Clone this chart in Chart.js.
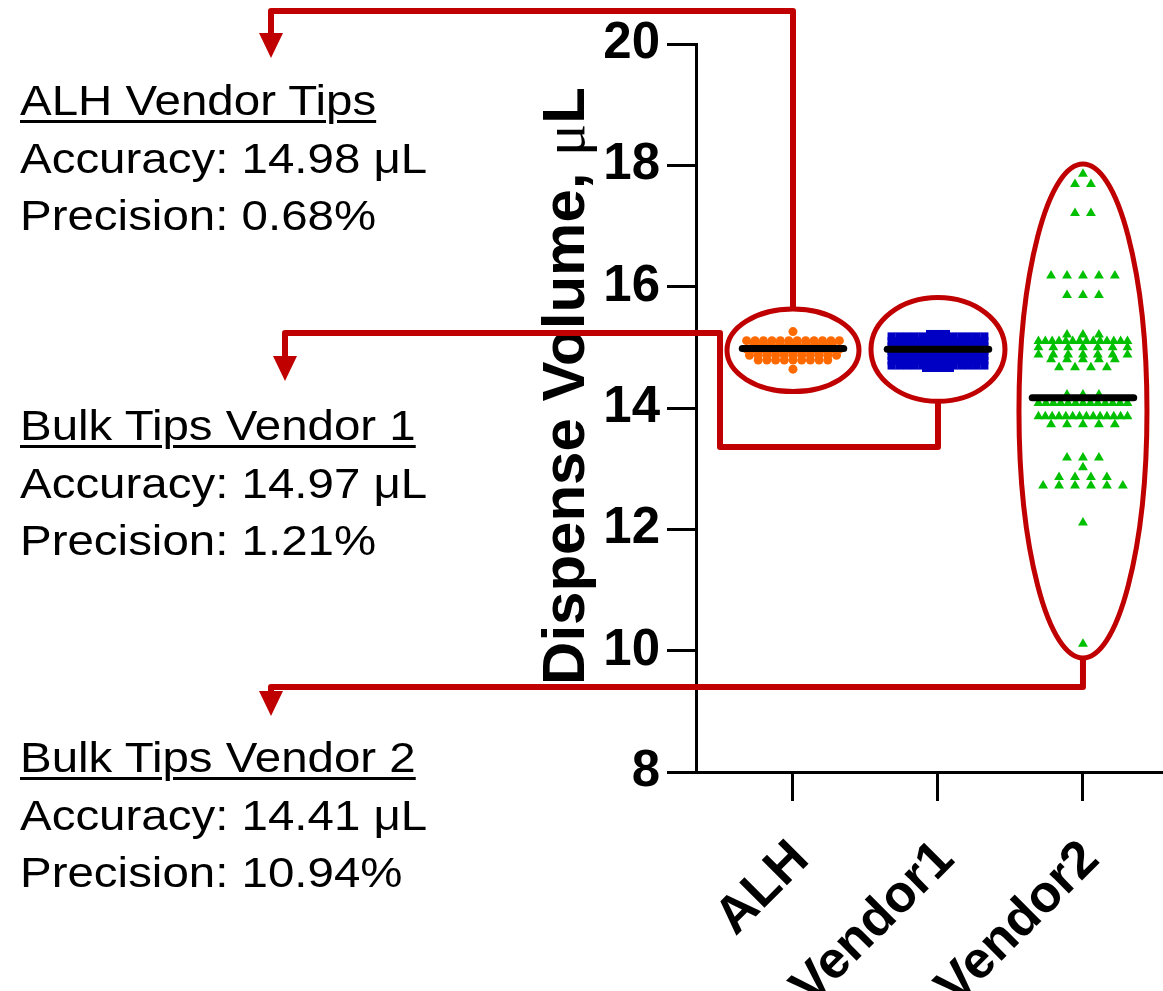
<!DOCTYPE html>
<html>
<head>
<meta charset="utf-8">
<script src="https://cdn.jsdelivr.net/npm/chart.js@4.4.1/dist/chart.umd.min.js"></script>
<style>
    html, body { margin: 0; padding: 0; background: #fff; overflow: hidden; }
    #wrap { position: relative; width: 1163px; height: 991px; }
    #plot { position: absolute; left: 0; top: 0; }
    .note {
        position: absolute;
        left: 20px;
        font: 42px/57.5px "Liberation Sans", Arial, sans-serif;
        color: #000;
        white-space: nowrap;
        transform: scaleX(1.13);
        transform-origin: 0 0;
    }
    .note .head {
        text-decoration: underline;
        text-decoration-thickness: 3px;
        text-underline-offset: 5px;
    }
</style>
</head>
<body>
<div id="wrap">
    <canvas id="plot" width="1163" height="991"></canvas>
</div>
<script>
// groups on the x axis
const groupNames = ['ALH', 'Vendor1', 'Vendor2'];

// dispense volumes, uL: [value, how many tips gave it]
const alhRows = [
    [15.26, 1], [15.11, 12], [15.05, 10], [14.97, 12],
    [14.87, 11], [14.79, 9], [14.64, 1]
];
const vendor1Rows = [
    [15.22, 3], [15.18, 13], [15.10, 14], [15.02, 14], [14.94, 14],
    [14.86, 14], [14.78, 14], [14.70, 13], [14.66, 4]
];
const vendor2Rows = [
    [17.86, 1], [17.69, 2], [17.21, 2], [16.18, 5], [15.86, 3],
    [15.21, 3], [15.10, 14], [15.00, 7], [14.88, 7], [14.80, 5], [14.67, 4],
    [14.22, 3], [14.08, 13], [13.86, 14], [13.73, 5],
    [13.18, 3], [13.02, 1], [12.86, 4], [12.72, 6], [12.11, 1], [10.11, 1]
];

// black bar drawn across each group
const centerLineValues = [14.98, 14.97, 14.17];

// summary text on the left
const noteTitles = ['ALH Vendor Tips', 'Bulk Tips Vendor 1', 'Bulk Tips Vendor 2'];
const accuracyValues = [14.98, 14.97, 14.41];
const precisionValues = [0.68, 1.21, 10.94];

const notesTop = [72, 397, 729];
noteTitles.forEach((title, i) => {
    const div = document.createElement('div');
    div.className = 'note';
    div.style.top = notesTop[i] + 'px';
    div.innerHTML = `<span class="head">${title}</span><br>` +
        `Accuracy: ${accuracyValues[i].toFixed(2)} μL<br>` +
        `Precision: ${precisionValues[i].toFixed(2)}%`;
    document.getElementById('wrap').appendChild(div);
});

// lay equal readings side by side, squeezed when a row gets too wide
function spreadRows(rows, center, maxStep, span) {
    const pts = [];
    rows.forEach(([value, n]) => {
        const step = n > 1 ? Math.min(maxStep, span / (n - 1)) : 0;
        for (let i = 0; i < n; i++) {
            pts.push({ x: center + (i - (n - 1) / 2) * step, y: value });
        }
    });
    return pts;
}

const sans = '"Liberation Sans", Arial, sans-serif';
Chart.defaults.font.family = sans;
Chart.defaults.color = '#000';

const red = '#C00000';

const lineSets = centerLineValues.map((v, i) => ({
    type: 'line',
    data: [{ x: i + 1 - 0.35, y: v }, { x: i + 1 + 0.35, y: v }],
    borderColor: '#000',
    borderWidth: 7,
    borderCapStyle: 'round',
    pointRadius: 0,
    showLine: true,
    order: 0
}));

const pointSets = [
    {
        data: spreadRows(alhRows, 1, 0.06, 0.64),
        pointStyle: 'circle',
        pointRadius: 4.5,
        backgroundColor: '#FF6A00',
        borderWidth: 0,
        order: 1
    },
    {
        data: spreadRows(vendor1Rows, 2, 0.055, 0.64),
        pointStyle: 'rect',
        pointRadius: 5.7,
        backgroundColor: '#0000C4',
        borderWidth: 0,
        order: 1
    },
    {
        data: spreadRows(vendor2Rows, 3, 0.11, 0.614),
        pointStyle: 'triangle',
        pointRadius: 5.7,
        backgroundColor: '#00C000',
        borderWidth: 0,
        order: 1
    }
];

// red ovals round each group, in axis units
const ovals = [
    { x: 1, top: 15.63, bottom: 14.27, rx: 66 },
    { x: 2, top: 15.82, bottom: 14.11, rx: 67 },
    { x: 3, top: 18.02, bottom: 9.88, rx: 64 }
];

function arrowHead(ctx, x, tipY) {
    ctx.beginPath();
    ctx.moveTo(x - 12, tipY - 25);
    ctx.lineTo(x + 12, tipY - 25);
    ctx.lineTo(x, tipY);
    ctx.closePath();
    ctx.fill();
}

function polyline(ctx, pts) {
    ctx.beginPath();
    ctx.moveTo(pts[0][0], pts[0][1]);
    pts.slice(1).forEach(p => ctx.lineTo(p[0], p[1]));
    ctx.stroke();
}

const calloutPlugin = {
    id: 'callouts',
    afterDraw(chart) {
        const { ctx, scales: { x, y } } = chart;
        ctx.save();

        // y axis title, with the micro sign set in a serif face
        const parts = [
            ['Dispense Volume, ', `bold 60px ${sans}`],
            ['μ', '60px "Liberation Serif", "DejaVu Serif", serif'],
            ['L', `bold 60px ${sans}`]
        ];
        let total = 0;
        parts.forEach(p => { ctx.font = p[1]; p.push(ctx.measureText(p[0]).width); total += p[2]; });
        ctx.save();
        ctx.translate(584, 386);
        ctx.rotate(-Math.PI / 2);
        ctx.fillStyle = '#000';
        ctx.textBaseline = 'alphabetic';
        ctx.textAlign = 'left';
        let tx = -total / 2;
        parts.forEach(p => { ctx.font = p[1]; ctx.fillText(p[0], tx, 0); tx += p[2]; });
        ctx.restore();

        // ovals
        ctx.strokeStyle = red;
        ctx.fillStyle = red;
        ctx.lineWidth = 5;
        const box = ovals.map(o => {
            const cx = x.getPixelForValue(o.x);
            const top = y.getPixelForValue(o.top);
            const bottom = y.getPixelForValue(o.bottom);
            ctx.beginPath();
            ctx.ellipse(cx, (top + bottom) / 2, o.rx, (bottom - top) / 2, 0, 0, Math.PI * 2);
            ctx.stroke();
            return { cx, top, bottom };
        });

        // leader lines to the summaries
        ctx.lineWidth = 6;
        ctx.lineJoin = 'round';
        polyline(ctx, [[box[0].cx, box[0].top], [box[0].cx, 11], [271, 11], [271, 36]]);
        arrowHead(ctx, 271, 58);
        polyline(ctx, [[box[1].cx, box[1].bottom], [box[1].cx, 447], [720, 447], [720, 333], [285, 333], [285, 358]]);
        arrowHead(ctx, 285, 381);
        polyline(ctx, [[box[2].cx, box[2].bottom], [box[2].cx, 687], [271, 687], [271, 694]]);
        arrowHead(ctx, 271, 716);

        ctx.restore();
    }
};

new Chart(document.getElementById('plot'), {
    type: 'scatter',
    data: { datasets: [...lineSets, ...pointSets] },
    options: {
        responsive: false,
        animation: false,
        events: [],
        layout: { autoPadding: false, padding: { top: 44, left: 0, right: 0, bottom: 0 } },
        plugins: { legend: { display: false }, tooltip: { enabled: false } },
        scales: {
            x: {
                type: 'linear',
                min: 0.331,
                max: 3.552,
                afterBuildTicks: scale => {
                    scale.ticks = groupNames.map((_, i) => ({ value: i + 1 }));
                },
                afterFit: scale => {
                    scale.height = 219;
                    scale.paddingLeft = 0;
                    scale.paddingRight = 0;
                },
                ticks: {
                    callback: v => groupNames[Math.round(v) - 1],
                    autoSkip: false,
                    minRotation: 45,
                    maxRotation: 45,
                    padding: 28,
                    labelOffset: 8,
                    color: '#000',
                    font: { size: 52, weight: 'bold' }
                },
                grid: { drawOnChartArea: false, tickLength: 29, tickWidth: 3, tickColor: '#000' },
                border: { display: true, color: '#000', width: 3 }
            },
            y: {
                min: 8,
                max: 20,
                afterFit: scale => { scale.width = 696; },
                ticks: {
                    stepSize: 2,
                    padding: 7,
                    color: '#000',
                    font: { size: 51, weight: 'bold' }
                },
                grid: { drawOnChartArea: false, tickLength: 29, tickWidth: 3, tickColor: '#000' },
                border: { display: true, color: '#000', width: 3 }
            }
        }
    },
    plugins: [calloutPlugin]
});
</script>
</body>
</html>
